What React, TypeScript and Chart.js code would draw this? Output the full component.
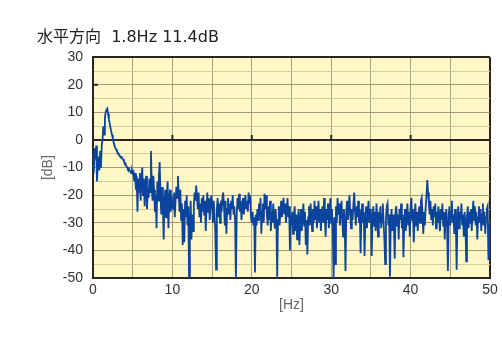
import React, { useEffect, useRef } from "react";
import { Chart, registerables } from "chart.js";

Chart.register(...registerables);

const TITLE = "水平方向  1.8Hz 11.4dB";
const X_TITLE = "[Hz]";
const Y_TITLE = "[dB]";

const X_MIN = 0;
const X_MAX = 50;
const X_STEP = 5;
const X_LABEL_EVERY = 10;
const Y_MIN = -50;
const Y_MAX = 30;
const Y_STEP = 5;
const Y_LABEL_EVERY = 10;

// frequency resolution of the spectrum (Hz per bin)
const FREQ_STEP = 0.1;

// spectrum level in dB, one value per 0.1 Hz bin, 0.0 .. 50.0 Hz
const DB: number[] = [
  // 0
  -5, -12, -3, -7, -2, -15, -9, -6, -11, -4,
  // 1
  -10, -2, 0, 5, 2, 8, 10.2, 11.0, 11.4, 9.5,
  // 2
  7.5, 6, 4.5, 3, 1.8, 0.5, -0.8, -1.8, -2.8, -3.3,
  // 3
  -4, -4.5, -5, -5.5, -5.9, -6.2, -6.1, -6.8, -7, -7.8,
  // 4
  -8.2, -8.5, -9.5, -9.8, -10.5, -10.2, -11, -11.3, -12, -11,
  // 5
  -12, -11.5, -15, -12, -18, -13, -26, -14, -19, -12,
  // 6
  -22, -15, -10, -20, -14, -24, -16, -13, -25, -18,
  // 7
  -21, -14, -19, -4, -16, -22, -13, -18, -26, -20,
  // 8
  -32, -15, -22, -13, -8, -20, -27, -17, -24, -36,
  // 9
  -22, -18, -28, -20, -15, -32, -22, -18, -26, -20,
  // 10
  -24, -25, -19, -28, -22, -17, -21, -13, -20, -26,
  // 11
  -18, -29, -23, -38, -25, -37, -22, -28, -20, -31,
  // 12
  -24, -50, -30, -22, -36, -27, -33, -24, -19, -22,
  // 13
  -16.5, -21, -25, -19, -28, -23, -30, -21, -26, -20,
  // 14
  -27, -22, -33, -24, -19, -26, -21, -29, -23, -20,
  // 15
  -24, -30, -22, -27, -33, -47, -25, -21, -28, -23,
  // 16
  -30, -22, -26, -21, -19, -24, -31, -22, -34, -25,
  // 17
  -21, -27, -23, -29, -22, -25, -20, -27, -24, -30,
  // 18
  -50, -27, -21, -25, -19.5, -26, -22, -29, -24, -21,
  // 19
  -27, -23, -20, -25, -22, -26, -19, -23, -20, -28,
  // 20
  -30, -26, -31, -28, -48, -27, -31, -25, -29, -23,
  // 21
  -28, -21, -34, -26, -23, -30, -19.5, -25, -20, -27,
  // 22
  -31, -24, -29, -22, -33, -26, -30, -23, -28, -32,
  // 23
  -25, -30, -49.5, -29, -24, -31, -26, -22, -28, -24,
  // 24
  -21, -27, -23, -30, -25, -21, -28, -24, -40, -27,
  // 25
  -31, -26, -34, -28, -24, -33, -27, -36, -29, -25,
  // 26
  -38, -30, -25, -33, -27, -23, -31, -26, -38, -29,
  // 27
  -41.5, -28, -24, -31, -23, -27, -33, -25, -30, -22,
  // 28
  -29, -24, -32, -26, -22, -30, -25, -33, -27, -24,
  // 29
  -30, -21, -28, -35, -25, -29, -23, -32, -26, -21,
  // 30
  -30, -25, -33, -50, -28, -45, -24, -30, -21, -27,
  // 31
  -23, -31, -26, -22, -29, -35, -25, -30, -47.5, -26,
  // 32
  -22, -29, -24, -20, -27, -32, -25, -29, -23, -19,
  // 33
  -26, -31, -24, -28, -22, -30, -25, -41, -28, -23,
  // 34
  -30, -26, -42, -29, -24, -32, -27, -22, -30, -25,
  // 35
  -27, -42, -29, -24, -31, -26, -33, -23, -28, -35,
  // 36
  -26, -30, -24, -32, -27, -23, -30, -36, -45, -28,
  // 37
  -24, -23, -31, -27, -49.5, -30, -25, -33, -27, -31,
  // 38
  -43, -26, -24, -31, -27, -36, -25, -29, -23, -32,
  // 39
  -27, -42.5, -30, -25, -33, -27, -23, -31, -26, -35,
  // 40
  -24, -21, -29, -25, -37, -28, -23, -31, -26, -33,
  // 41
  -27, -24, -30, -22, -21, -28, -34, -26, -31, -24,
  // 42
  -20, -14.5, -19, -23, -27, -22, -29, -25, -31, -24,
  // 43
  -28, -23, -32, -26, -30, -24, -28, -33, -25, -29,
  // 44
  -23, -31, -26, -36, -28, -25, -32, -47.5, -27, -24,
  // 45
  -31, -26, -22, -30, -27, -34, -25, -30, -47, -28,
  // 46
  -24, -32, -26, -29, -23, -31, -27, -35, -26, -30,
  // 47
  -44, -28, -24, -32, -26, -30, -25, -33, -27, -22,
  // 48
  -29, -24, -31, -26, -36, -28, -24, -30, -25, -33,
  // 49
  -27, -23, -31, -26, -34, -28, -25, -24, -43.5, -30,
  // 50
  -43,
];

// small tick marks drawn on the 0 dB line and on the left frame
const ZERO_LINE_MARKS_HZ = [10, 20, 30, 40];
const LEFT_FRAME_MARKS_DB = [20];

const PLOT_BG = "#fff8c6";
const FRAME = "#2b2620";
const GRID_MAJOR = "#a0987a";
const GRID_MINOR = "#d5cb97";
const GRID_X = "#a9a182";
const LINE = "#0b449e";

const bgPlugin = {
  id: "plotBg",
  beforeDraw(chart: any) {
    const { ctx, chartArea } = chart;
    if (!chartArea) return;
    ctx.save();
    ctx.fillStyle = PLOT_BG;
    ctx.fillRect(chartArea.left, chartArea.top, chartArea.right - chartArea.left, chartArea.bottom - chartArea.top);
    ctx.restore();
  },
};

const marksPlugin = {
  id: "frameMarks",
  beforeDatasetsDraw(chart: any) {
    const { ctx, scales, chartArea } = chart;
    const xs = scales.x;
    const ys = scales.y;
    ctx.save();
    ctx.strokeStyle = FRAME;
    ctx.lineWidth = 2;
    const y0 = ys.getPixelForValue(0);
    ZERO_LINE_MARKS_HZ.forEach((hz) => {
      const px = xs.getPixelForValue(hz);
      ctx.beginPath();
      ctx.moveTo(px, y0);
      ctx.lineTo(px, y0 - 5);
      ctx.stroke();
    });
    LEFT_FRAME_MARKS_DB.forEach((db) => {
      const py = ys.getPixelForValue(db);
      ctx.beginPath();
      ctx.moveTo(chartArea.left, py);
      ctx.lineTo(chartArea.left + 5, py);
      ctx.stroke();
    });
    ctx.restore();
  },
};

export default function App() {
  const ref = useRef<HTMLCanvasElement | null>(null);

  useEffect(() => {
    if (!ref.current) return;
    const points = DB.map((v, i) => ({ x: Math.round(i * FREQ_STEP * 10) / 10, y: v }));
    const tickFont = { family: "'Liberation Sans', Arial, sans-serif", size: 14 };
    const chart = new Chart(ref.current, {
      type: "line",
      data: {
        datasets: [
          {
            data: points,
            borderColor: LINE,
            borderWidth: 1.8,
            pointRadius: 0,
            tension: 0,
            fill: false,
          },
        ],
      },
      options: {
        animation: false,
        responsive: false,
        devicePixelRatio: 1,
        events: [],
        layout: { padding: { left: 37, right: 12, top: 0, bottom: 25 } },
        plugins: {
          legend: { display: false },
          tooltip: { enabled: false },
          title: {
            display: true,
            text: TITLE,
            align: "start",
            color: "#222222",
            font: { family: "'DejaVu Sans', 'Noto Sans CJK JP', sans-serif", size: 16, weight: "normal" },
            padding: { top: 28, bottom: 10 },
          },
        },
        scales: {
          x: {
            type: "linear",
            min: X_MIN,
            max: X_MAX,
            afterFit: (s: any) => {
              s.height = 40;
            },
            ticks: {
              stepSize: X_STEP,
              autoSkip: false,
              maxRotation: 0,
              padding: 4,
              color: "#333333",
              font: tickFont,
              callback: (v: any) => (Number(v) % X_LABEL_EVERY === 0 ? String(v) : ""),
            },
            grid: {
              drawTicks: false,
              color: (c: any) => (c.tick && c.tick.value === X_MAX ? FRAME : GRID_X),
              lineWidth: (c: any) => (c.tick && c.tick.value === X_MAX ? 2 : 1),
            },
            border: { color: FRAME, width: 2 },
            title: {
              display: true,
              text: X_TITLE,
              color: "#666666",
              font: tickFont,
              padding: { top: 0, bottom: 4 },
            },
          },
          y: {
            type: "linear",
            min: Y_MIN,
            max: Y_MAX,
            afterFit: (s: any) => {
              s.width = 56;
            },
            ticks: {
              stepSize: Y_STEP,
              autoSkip: false,
              padding: 10,
              color: "#333333",
              font: tickFont,
              callback: (v: any) => (Number(v) % Y_LABEL_EVERY === 0 ? String(v) : ""),
            },
            grid: {
              drawTicks: false,
              color: (c: any) => {
                const v = c.tick ? c.tick.value : NaN;
                if (v === 0 || v === Y_MAX) return FRAME;
                return v % Y_LABEL_EVERY === 0 ? GRID_MAJOR : GRID_MINOR;
              },
              lineWidth: (c: any) => {
                const v = c.tick ? c.tick.value : NaN;
                return v === 0 || v === Y_MAX ? 2 : 1;
              },
            },
            border: { color: FRAME, width: 2 },
            title: {
              display: true,
              text: Y_TITLE,
              color: "#666666",
              font: { family: "'Liberation Sans', Arial, sans-serif", size: 14 },
              padding: { top: 3, bottom: 0 },
            },
          },
        },
      },
      plugins: [bgPlugin, marksPlugin],
    } as any);
    return () => chart.destroy();
  }, []);

  return (
    <div style={{ position: "absolute", left: 0, top: 0, width: 502, height: 343, background: "#ffffff" }}>
      <canvas ref={ref} width={502} height={343} style={{ display: "block" }} />
    </div>
  );
}
